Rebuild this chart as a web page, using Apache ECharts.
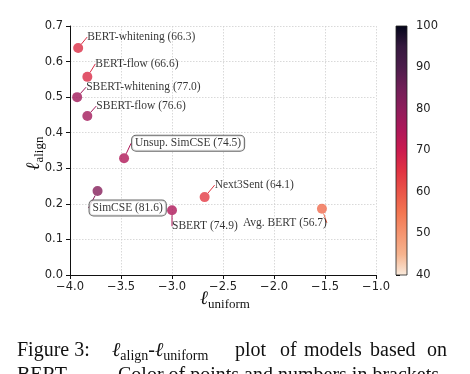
<!DOCTYPE html>
<html>
<head>
<meta charset="utf-8">
<script src="https://cdn.jsdelivr.net/npm/echarts@6/dist/echarts.min.js"></script>
<style>
html,body{margin:0;padding:0;background:#fff;}
#chart{width:470px;height:374px;}
</style>
</head>
<body>
<div id="chart"></div>
<script>
// ---- data ----
var models = ['BERT-whitening', 'BERT-flow', 'SBERT-whitening', 'SBERT-flow', 'Unsup. SimCSE', 'SimCSE', 'SBERT', 'Next3Sent', 'Avg. BERT'];
var uniformLoss = [-3.92, -3.83, -3.93, -3.83, -3.47, -3.73, -3.00, -2.68, -1.53];
var alignLoss = [0.638, 0.557, 0.500, 0.447, 0.328, 0.236, 0.182, 0.219, 0.186];
var stsScore = [66.3, 66.6, 77.0, 76.6, 74.5, 81.6, 74.9, 64.1, 56.7];
var xTicks = [-4.0, -3.5, -3.0, -2.5, -2.0, -1.5, -1.0];
var yTicks = [0.0, 0.1, 0.2, 0.3, 0.4, 0.5, 0.6, 0.7];
var cbTicks = [40, 50, 60, 70, 80, 90, 100];

// ---- styling (not data) ----
// rocket_r colormap stops, evenly spaced from low (40) to high (100)
var cmap = ['#FAEBDD', '#F6B48F', '#F59570', '#F37651', '#EA5548', '#E13342', '#CB1B4F',
            '#AD1759', '#8E1D5B', '#701F57', '#4C1D4B', '#35193E', '#03051A'];
var labelOffsets = [
  {dx: 9, dy: -11}, {dx: 8, dy: -13}, {dx: 9, dy: -10}, {dx: 9, dy: -10},
  {dx: 8, dy: -15}, {dx: -8, dy: 17}, {dx: 0, dy: 16}, {dx: 10, dy: -12}, {dx: 5, dy: 14, align: 'right'}
];
var boxed = {'Unsup. SimCSE': true, 'SimCSE': true};

var minus = function (v) { return String(v).replace('-', '\u2212'); };

var points = models.map(function (m, i) {
  var item = {name: m, value: [uniformLoss[i], alignLoss[i], stsScore[i]]};
  if (boxed[m]) {
    item.label = {backgroundColor: '#fff', borderColor: '#444', borderWidth: 1, borderRadius: 4, padding: [2, 3, 1, 3]};
  }
  return item;
});

var serif = "'Liberation Serif', 'Times New Roman', serif";
var sans = "'DejaVu Sans', sans-serif";

var chart = echarts.init(document.getElementById('chart'), null, {renderer: 'canvas'});
var gradStops = cmap.map(function (c, k) { return {offset: 1 - k / (cmap.length - 1), color: c}; })
  .sort(function (a, b) { return a.offset - b.offset; });

var option = {
  animation: false,
  backgroundColor: '#fff',
  grid: [
    {left: 70, right: 94, top: 26, bottom: 99, containLabel: false},
    {left: 396, width: 11, top: 26, bottom: 99, containLabel: false}
  ],
  visualMap: {
    type: 'continuous', show: false, min: cbTicks[0], max: cbTicks[cbTicks.length - 1],
    dimension: 2, seriesIndex: 0, inRange: {color: cmap}
  },
  xAxis: [
    {
      type: 'value', gridIndex: 0, min: xTicks[0], max: xTicks[xTicks.length - 1], interval: 0.5,
      axisLine: {show: true, onZero: false, lineStyle: {color: '#111', width: 1}},
      axisTick: {show: true, length: 4, lineStyle: {color: '#111'}},
      axisLabel: {color: '#222', fontFamily: sans, fontSize: 11.5, margin: 6,
        formatter: function (v) { return minus(v.toFixed(1)); }},
      splitLine: {show: true, lineStyle: {color: '#cfcfcf', type: [1.5, 1.5], width: 0.8}},
      name: '{l|ℓ}{s|uniform}', nameLocation: 'middle', nameGap: 14, nameMoveOverlap: false,
      nameTextStyle: {padding: [0, 0, 0, 4], rich: {
        l: {fontFamily: serif, fontStyle: 'italic', fontSize: 19, color: '#111', lineHeight: 20, verticalAlign: 'top'},
        s: {fontFamily: serif, fontSize: 13, color: '#111', lineHeight: 20, verticalAlign: 'top', padding: [9, 0, 0, 0]}
      }}
    },
    {type: 'value', gridIndex: 1, min: 0, max: 1, show: false}
  ],
  yAxis: [
    {
      type: 'value', gridIndex: 0, min: yTicks[0], max: yTicks[yTicks.length - 1], interval: 0.1,
      axisLine: {show: true, onZero: false, lineStyle: {color: '#111', width: 1}},
      axisTick: {show: true, length: 4, lineStyle: {color: '#111'}},
      axisLabel: {color: '#222', fontFamily: sans, fontSize: 11.5, margin: 7,
        formatter: function (v) { return v.toFixed(1); }},
      splitLine: {show: true, lineStyle: {color: '#cfcfcf', type: [1.5, 1.5], width: 0.8}},
      name: '{l|ℓ}{s|align}', nameLocation: 'middle', nameGap: 26, nameRotate: 90, nameMoveOverlap: false,
      nameTextStyle: {padding: [0, 6, 0, 0], rich: {
        l: {fontFamily: serif, fontStyle: 'italic', fontSize: 19, color: '#111', lineHeight: 20, verticalAlign: 'top'},
        s: {fontFamily: serif, fontSize: 13, color: '#111', lineHeight: 20, verticalAlign: 'top', padding: [9, 0, 0, 0]}
      }}
    },
    {
      type: 'value', gridIndex: 1, min: cbTicks[0], max: cbTicks[cbTicks.length - 1], interval: 10,
      position: 'right',
      axisLine: {show: false},
      axisTick: {show: true, length: 4, lineStyle: {color: '#111'}},
      axisLabel: {color: '#222', fontFamily: sans, fontSize: 11.5, margin: 9},
      splitLine: {show: false}
    }
  ],
  series: [
    {
      type: 'scatter', xAxisIndex: 0, yAxisIndex: 0, symbolSize: 10,
      data: points,
      label: {
        show: true, position: 'inside', align: 'left', verticalAlign: 'middle',
        fontFamily: serif, fontSize: 11.5, color: '#000', textBorderWidth: 0, textBorderColor: 'transparent',
        formatter: function (p) { return p.name + ' (' + p.value[2].toFixed(1) + ')'; }
      },
      labelLine: {show: true, length2: 0, lineStyle: {width: 1}},
      labelLayout: function (p) {
        var o = labelOffsets[p.dataIndex];
        var r = {dx: o.dx, dy: o.dy};
        if (o.align) r.align = o.align;
        return r;
      },
      z: 5
    },
    {
      type: 'custom', xAxisIndex: 1, yAxisIndex: 1,
      data: [[0, 1, cbTicks[0], cbTicks[cbTicks.length - 1]]],
      renderItem: function (params, api) {
        var tl = api.coord([api.value(0), api.value(3)]);
        var br = api.coord([api.value(1), api.value(2)]);
        return {
          type: 'rect',
          shape: {x: tl[0], y: tl[1], width: br[0] - tl[0], height: br[1] - tl[1]},
          style: {
            fill: new echarts.graphic.LinearGradient(0, 0, 0, 1, gradStops),
            stroke: '#222', lineWidth: 0.8
          }
        };
      }
    }
  ],
  graphic: [
    {type: 'text', left: 17, top: 341, style: {text: 'Figure 3:', font: '20px ' + serif, fill: '#111'}},
    {type: 'text', left: 112, top: 341, style: {
      text: '{l|ℓ}{s|align}{n|-}{l|ℓ}{s|uniform}', fill: '#111',
      rich: {
        l: {fontFamily: serif, fontStyle: 'italic', fontSize: 20, lineHeight: 22, verticalAlign: 'top'},
        n: {fontFamily: serif, fontSize: 20, lineHeight: 22, verticalAlign: 'top'},
        s: {fontFamily: serif, fontSize: 14, lineHeight: 22, verticalAlign: 'top', padding: [8, 0, 0, 0]}
      }
    }},
    {type: 'text', left: 235, top: 341, style: {text: 'plot', font: '20px ' + serif, fill: '#111'}},
    {type: 'text', left: 280, top: 341, style: {text: 'of', font: '20px ' + serif, fill: '#111'}},
    {type: 'text', left: 304, top: 341, style: {text: 'models', font: '20px ' + serif, fill: '#111'}},
    {type: 'text', left: 370, top: 341, style: {text: 'based', font: '20px ' + serif, fill: '#111'}},
    {type: 'text', left: 427, top: 341, style: {text: 'on', font: '20px ' + serif, fill: '#111'}},
    {type: 'text', left: 17, top: 366, style: {
      text: '{n|BERT}{s|base}{n|.}', fill: '#111',
      rich: {
        n: {fontFamily: serif, fontSize: 20, lineHeight: 22, verticalAlign: 'top'},
        s: {fontFamily: serif, fontSize: 14, lineHeight: 22, verticalAlign: 'top', padding: [8, 0, 0, 0]}
      }
    }},
    {type: 'text', left: 118, top: 366, style: {text: 'Color of points and numbers in brackets', font: '20px ' + serif, fill: '#111'}}
  ]
};
chart.setOption(option);
</script>
</body>
</html>
